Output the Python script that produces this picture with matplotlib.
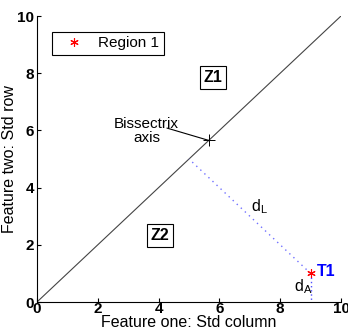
import matplotlib
matplotlib.use("Agg")
import matplotlib.pyplot as plt

plt.rcParams['font.family'] = ['Liberation Sans', 'DejaVu Sans']

# data
diag_x = [0, 10]
diag_y = [0, 10]
t1 = (9, 1)
proj = (5, 5)
bis_pt = (5.65, 5.65)
xticks = [0, 2, 4, 6, 8, 10]
yticks = [0, 2, 4, 6, 8, 10]

fig = plt.figure(figsize=(3.48, 3.34), dpi=100)
ax = fig.add_axes([37/348, 32/334, 304/348, 286/334])

ax.plot(diag_x, diag_y, color='#444444', lw=0.8)
ax.plot([t1[0], proj[0]], [t1[1], proj[1]], color='#7070ff', lw=1.0, ls=(0, (1, 3)))
ax.plot([t1[0], t1[0]], [t1[1], 0], color='#5050ff', lw=1.0, ls=(0, (1, 2)))
ax.plot([t1[0]], [t1[1]], ls='none', marker=(6, 2, 0), color='red', ms=6, mew=0.8, label='Region 1')

# bissectrix annotation
ax.plot([4.28, bis_pt[0]], [6.08, bis_pt[1]], color='black', lw=0.8)
ax.plot([bis_pt[0]], [bis_pt[1]], marker='+', color='black', ms=8, mew=0.7)
ax.text(3.6, 5.98, 'Bissectrix\naxis', ha='center', va='center', fontsize=11, linespacing=1.0)

bbox = dict(boxstyle='square,pad=0.25', fc='white', ec='black', lw=0.8)
ax.text(5.79, 7.85, 'Z1', ha='center', va='center', fontsize=11.5, fontweight='bold', bbox=bbox)
ax.text(4.05, 2.33, 'Z2', ha='center', va='center', fontsize=11.5, fontweight='bold', bbox=bbox)

ax.text(9.2, 1.05, 'T1', ha='left', va='center', fontsize=11.5, fontweight='bold', color='#0000ff')
ax.text(7.05, 3.35, r'd$_{\mathregular{L}}$', ha='left', va='center', fontsize=11.5)
ax.text(8.45, 0.55, r'd$_{\mathregular{A}}$', ha='left', va='center', fontsize=11.5)

ax.set_xlim(0, 10)
ax.set_ylim(0, 10)
ax.set_xticks(xticks)
ax.set_yticks(yticks)
ax.set_xticklabels([str(v) for v in xticks], fontweight='bold', fontsize=11)
ax.set_yticklabels([str(v) for v in yticks], fontweight='bold', fontsize=11)
ax.tick_params(direction='in', length=3, width=0.8)
ax.tick_params(axis='x', pad=0)
ax.tick_params(axis='y', pad=2)
ax.spines['top'].set_visible(False)
ax.spines['right'].set_visible(False)
ax.set_xlabel('Feature one: Std column', fontsize=11.5, labelpad=-1)
ax.set_ylabel('Feature two: Std row', fontsize=11.5, labelpad=0)

leg = ax.legend(loc='upper left', bbox_to_anchor=(0.05, 0.945), borderaxespad=0,
                fancybox=False, edgecolor='black', framealpha=1, fontsize=11,
                handlelength=2.2, handletextpad=0.5, borderpad=0.3)
leg.get_frame().set_linewidth(0.8)

fig.savefig('out.png', dpi=100)
